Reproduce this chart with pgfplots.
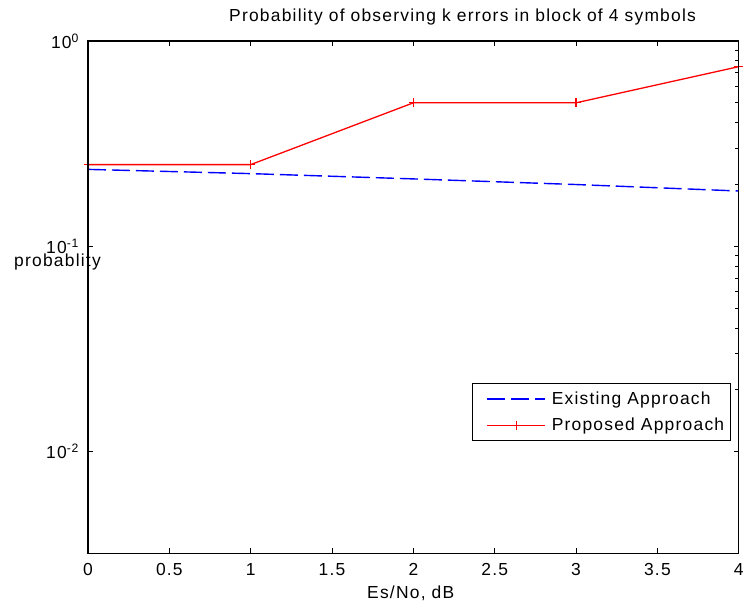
\documentclass[border=0pt]{standalone}
\usepackage{pgfplots}
\pgfplotsset{compat=1.18}
\usepackage{fontspec}
\setmainfont{Liberation Sans}[LetterSpace=7]
\pgfplotsset{
  myaxis/.style={
    at={(88bp,49.7bp)}, anchor=south west,
    scale only axis, width=650.7bp, height=512.3bp,
    xmin=0, xmax=4, ymin=0.0032, ymax=1,
    axis line style={line width=1.1bp, black},
    tick style={black, line width=0.9bp},
    major tick length=5bp, minor tick length=4bp,
    tick align=inside,
    /pgf/number format/assume math mode=true,
  }
}
\begin{document}
\fontsize{17.5}{20}\selectfont
\begin{tikzpicture}[x=1bp,y=1bp]
\path[use as bounding box] (0,0) rectangle (752,603);
\begin{axis}[ymode=log, myaxis,
  xtick={0,0.5,1,1.5,2,2.5,3,3.5,4},
  xticklabels={0,0.5,1,1.5,2,2.5,3,3.5,4},
  xticklabel style={yshift=-4bp},
  ytick={0.01,0.1,1},
  yticklabels={10\textsuperscript{-2},10\textsuperscript{-1},10\textsuperscript{0}},
  yminorticks=false,
  ytick pos=left,
  yticklabel style={xshift=-3bp},
  legend style={at={(0.590,0.3324)}, anchor=north west, draw=black, line width=0.9bp,
    font=\fontsize{17.5}{20}\selectfont, row sep=7bp, inner xsep=4bp, inner ysep=6bp},
  legend cell align=left,
  legend image code/.code={\path (-10bp,0bp) (62bp,0bp);\draw[mark repeat=2,mark phase=2,#1] plot coordinates {(0bp,0bp) (29bp,0bp) (58bp,0bp)};},
]
\addplot[blue, line width=1.4bp, dash pattern=on 18bp off 6bp] coordinates {
 (0,0.237) (1,0.226) (2,0.213) (3,0.200) (4,0.186)};
\addlegendentry{Existing Approach}
\addplot[red, line width=1.3bp, mark=+, mark size=4.5bp, mark options={solid, line width=1.1bp}] coordinates {
 (0,0.25) (1,0.25) (2,0.5) (3,0.5) (4,0.75)};
\addlegendentry{Proposed Approach}
\end{axis}
\begin{axis}[ymode=log, myaxis,
  xtick=\empty,
  ytick={0.01,0.1,1},
  yticklabels={},
  ytick pos=right,
]
\end{axis}
\node[anchor=base west, inner sep=0] at (229,581) {Probability of observing k errors in block of 4 symbols};
\node[anchor=base west, inner sep=0] at (14,336) {probablity};
\node[anchor=base west, inner sep=0] at (367,4) {Es/No, dB};
\end{tikzpicture}
\end{document}
